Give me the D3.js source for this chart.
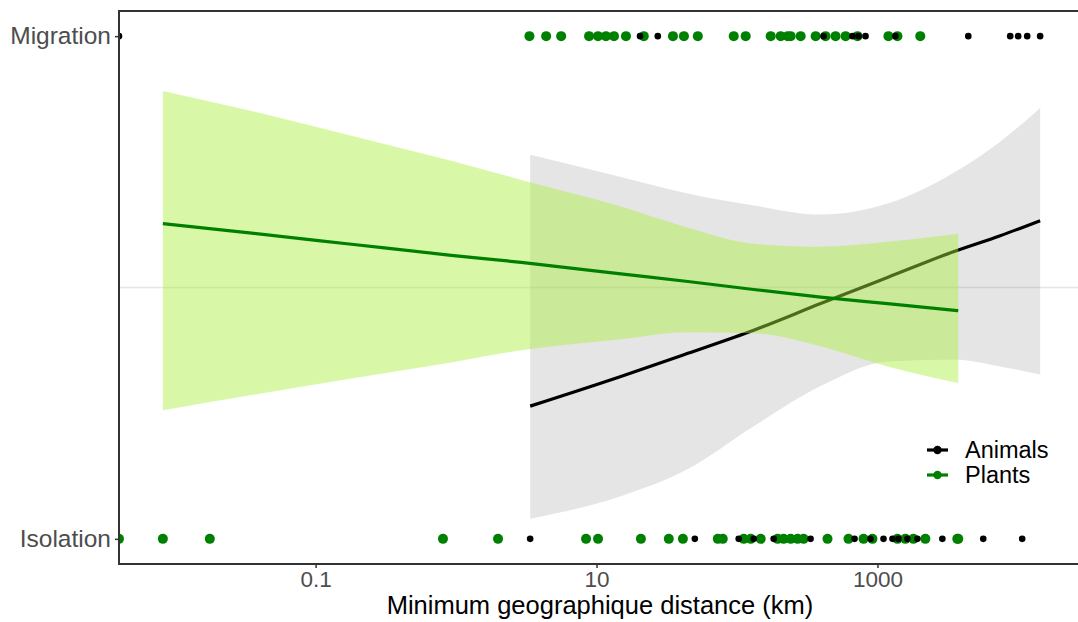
<!DOCTYPE html>
<html><head><meta charset="utf-8">
<script src="https://cdn.jsdelivr.net/npm/d3@7"></script>
<style>
html,body{margin:0;padding:0;background:#fff;}
svg{display:block;font-family:"Liberation Sans",Arial,Helvetica,sans-serif;}
</style></head>
<body>
<svg id="chart" width="1078" height="622"></svg>
<script>
// ---- data (distance in km; 0 = drawn at the left edge) ----
const plantsMigration = [3.33, 4.38, 5.6, 8.85, 10.25, 11.67, 13.31, 16.2, 21.7, 35, 41.9, 52.6, 94.8, 115.3, 173.8, 204.6, 229.5, 241, 284, 363, 427, 503, 593, 721, 1197, 1387, 2018];
const animalsMigration = [0, 20.4, 27.3, 413, 664, 733, 822, 1343, 4433, 8810, 10040, 11640, 14390];
const plantsIsolation = [0, 0.00818, 0.01766, 0.807, 1.99, 8.42, 10.25, 20.7, 32.7, 41.2, 73, 79.2, 111.7, 125.3, 147.5, 194.8, 214.8, 241, 270, 298, 441, 622, 796, 921, 1387, 1581, 1803, 2193, 3700, 3760];
const animalsIsolation = [3.37, 50.1, 102.8, 131.5, 182.4, 334, 687, 892, 1104, 1279, 1409, 1633, 1923, 2897, 5664, 10720];

// fitted logistic curves with confidence bands
const plantsFitDist = [0.00818, 0.0351, 0.180, 0.925, 2.91, 14.9, 44.7, 131.5, 394, 1178, 3760];
const plantsFit     = [0.627, 0.608, 0.586, 0.564, 0.550, 0.527, 0.512, 0.496, 0.481, 0.468, 0.454];
const plantsLower   = [0.256, 0.286, 0.319, 0.351, 0.375, 0.397, 0.411, 0.409, 0.383, 0.343, 0.310];
const plantsUpper   = [0.891, 0.851, 0.802, 0.752, 0.714, 0.661, 0.619, 0.587, 0.581, 0.591, 0.607];

const animalsFitDist = [3.37, 14.9, 44.7, 131.5, 394, 1178, 3467, 7482, 14390];
const animalsFit     = [0.264, 0.323, 0.369, 0.415, 0.468, 0.520, 0.571, 0.603, 0.633];
const animalsLower   = [0.040, 0.085, 0.139, 0.224, 0.304, 0.353, 0.357, 0.343, 0.327];
const animalsUpper   = [0.764, 0.720, 0.687, 0.663, 0.645, 0.667, 0.728, 0.790, 0.857];

const xTickValues = [0.1, 10, 1000];
const xTickLabels = ["0.1", "10", "1000"];
const yTickValues = [0, 1];
const yTickLabels = ["Isolation", "Migration"];
const seriesNames = ["Animals", "Plants"];
const xTitle = "Minimum geographique distance (km)";

// ---- layout ----
const svg = d3.select("#chart");
const mLeft = 119, mRight = 1084, mTop = 11, mBottom = 564;

const allPos = [].concat(plantsMigration, animalsMigration, plantsIsolation, animalsIsolation).filter(d => d > 0);
const lmin = Math.log10(d3.min(allPos)), lmax = Math.log10(d3.max(allPos));
const pad = (lmax - lmin) * 0.05;
const x = d3.scaleLog().domain([Math.pow(10, lmin - pad), Math.pow(10, lmax + pad)]).range([mLeft, mRight]);
const y = d3.scaleLinear().domain([-0.05, 1.05]).range([mBottom, mTop]);
const px = d => d > 0 ? x(d) : mLeft;

const colAnimals = "#000000", colPlants = "#008000";

svg.append("defs").append("clipPath").attr("id", "clip")
  .append("rect").attr("x", mLeft).attr("y", mTop).attr("width", mRight - mLeft).attr("height", mBottom - mTop);
const panel = svg.append("g").attr("clip-path", "url(#clip)");

// reference line at 0.5
panel.append("line").attr("x1", mLeft).attr("x2", mRight).attr("y1", y(0.5)).attr("y2", y(0.5))
  .attr("stroke", "#999").attr("stroke-opacity", 0.25).attr("stroke-width", 1.5);

function band(dist, lo, hi) {
  return d3.area().curve(d3.curveMonotoneX)
    .x((d, i) => x(dist[i])).y0((d, i) => y(lo[i])).y1((d, i) => y(hi[i]))(dist);
}
function fitLine(dist, fit) {
  return d3.line().curve(d3.curveMonotoneX)
    .x((d, i) => x(dist[i])).y((d, i) => y(fit[i]))(dist);
}

// Animals smooth
panel.append("path").attr("d", band(animalsFitDist, animalsLower, animalsUpper))
  .attr("fill", "#999999").attr("fill-opacity", 0.26);
panel.append("path").attr("d", fitLine(animalsFitDist, animalsFit))
  .attr("fill", "none").attr("stroke", colAnimals).attr("stroke-width", 3.2);
// Plants smooth
panel.append("path").attr("d", band(plantsFitDist, plantsLower, plantsUpper))
  .attr("fill", "rgb(170,240,60)").attr("fill-opacity", 0.45);
panel.append("path").attr("d", fitLine(plantsFitDist, plantsFit))
  .attr("fill", "none").attr("stroke", colPlants).attr("stroke-width", 3.2);

// points
function pts(arr, val, col, r) {
  panel.append("g").selectAll("circle").data(arr).join("circle")
    .attr("cx", d => px(d)).attr("cy", y(val)).attr("r", r).attr("fill", col);
}
pts(plantsIsolation, 0, colPlants, 5);
pts(plantsMigration, 1, colPlants, 5);
pts(animalsIsolation, 0, colAnimals, 3.3);
pts(animalsMigration, 1, colAnimals, 3.3);

// border
svg.append("rect").attr("x", mLeft).attr("y", mTop).attr("width", mRight - mLeft).attr("height", mBottom - mTop)
  .attr("fill", "none").attr("stroke", "#333333").attr("stroke-width", 2);

// x axis
const xa = svg.append("g").attr("transform", `translate(0,${mBottom})`)
  .call(d3.axisBottom(x).tickValues(xTickValues).tickFormat((d, i) => xTickLabels[i]).tickSize(4).tickPadding(3));
xa.select(".domain").remove();
xa.selectAll("line").attr("stroke", "#333").attr("stroke-width", 1.5);
xa.selectAll("text").attr("fill", "#4d4d4d").attr("font-size", 22.5).attr("dy", "0.72em");

// y axis
const ya = svg.append("g").attr("transform", `translate(${mLeft},0)`)
  .call(d3.axisLeft(y).tickValues(yTickValues).tickFormat((d, i) => yTickLabels[i]).tickSize(4).tickPadding(4));
ya.select(".domain").remove();
ya.selectAll("line").attr("stroke", "#333").attr("stroke-width", 1.5);
ya.selectAll("text").attr("fill", "#4d4d4d").attr("font-size", 24.5);

// x title
svg.append("text").attr("x", 600).attr("y", 614).attr("text-anchor", "middle")
  .attr("font-size", 25.5).attr("fill", "#000").text(xTitle);

// legend
const legCols = [colAnimals, colPlants];
const leg = svg.append("g");
seriesNames.forEach((name, i) => {
  const ly = 450 + i * 25;
  leg.append("line").attr("x1", 927).attr("x2", 948).attr("y1", ly).attr("y2", ly)
    .attr("stroke", legCols[i]).attr("stroke-width", 3.2);
  leg.append("circle").attr("cx", 937.5).attr("cy", ly).attr("r", 4.2).attr("fill", legCols[i]);
  leg.append("text").attr("x", 965).attr("y", ly).attr("dy", "0.36em").attr("font-size", 23.5)
    .attr("fill", "#000").text(name);
});
</script>
</body></html>
